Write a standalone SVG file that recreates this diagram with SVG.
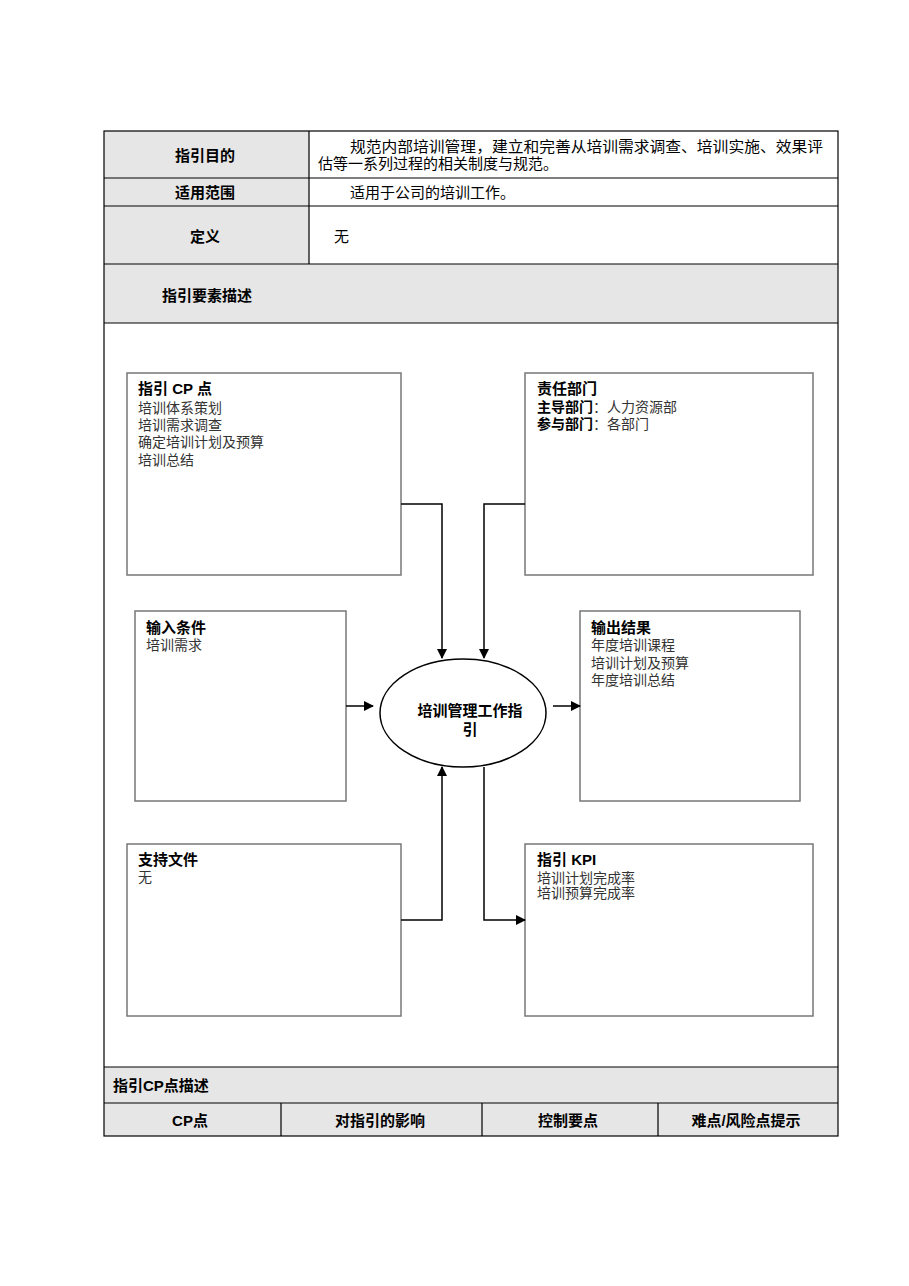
<svg xmlns="http://www.w3.org/2000/svg" width="909" height="1286" viewBox="0 0 909 1286">
<style>
text{font-family:"Liberation Sans","Noto Sans CJK SC",sans-serif;fill:#000}
.b{font-weight:bold;font-size:15px}
.n{font-size:15px}
.s{font-size:14px;fill:#333}
.box{fill:#fff;stroke:#777;stroke-width:1.5}
.g{fill:#e6e6e6}
.ln{stroke:#000;stroke-width:1.2;fill:none}
.c{stroke:#000;stroke-width:1.5;fill:none;marker-end:url(#a)}
</style>
<defs><marker id="a" markerWidth="10" markerHeight="10" refX="9" refY="5" orient="auto" markerUnits="userSpaceOnUse"><path d="M0,0 L10,5 L0,10 z" fill="#000"/></marker></defs>
<rect width="909" height="1286" fill="#fff"/>
<g id="table">
<rect class="g" x="104" y="131" width="205" height="133"/>
<rect class="g" x="104" y="264" width="734" height="59"/>
<rect class="g" x="104" y="1067" width="734" height="69"/>
<rect class="ln" x="104" y="131" width="734" height="1005"/>
<path class="ln" d="M309 131V264M104 178H838M104 206H838M104 264H838M104 323H838M104 1067H838M104 1103H838M281 1103V1136M482 1103V1136M658 1103V1136"/>
<text class="b" x="205" y="161" text-anchor="middle">指引目的</text>
<text class="n" x="350" y="152" textLength="473" lengthAdjust="spacingAndGlyphs">规范内部培训管理，建立和完善从培训需求调查、培训实施、效果评</text>
<text class="n" x="318" y="169">估等一系列过程的相关制度与规范。</text>
<text class="b" x="205" y="198" text-anchor="middle">适用范围</text>
<text class="n" x="350" y="198">适用于公司的培训工作。</text>
<text class="b" x="205" y="242" text-anchor="middle">定义</text>
<text class="n" x="334" y="242">无</text>
<text class="b" x="162" y="301">指引要素描述</text>
<text class="b" x="113" y="1091">指引CP点描述</text>
<text class="b" x="190" y="1126" text-anchor="middle">CP点</text>
<text class="b" x="380" y="1126" text-anchor="middle">对指引的影响</text>
<text class="b" x="568" y="1126" text-anchor="middle">控制要点</text>
<text class="b" x="746" y="1126" text-anchor="middle">难点/风险点提示</text>
</g>
<g id="cp"><rect class="box" x="127" y="373" width="274" height="202"/>
<text class="b" x="138" y="394">指引 CP 点</text>
<text class="s" x="138" y="413">培训体系策划</text><text class="s" x="138" y="430">培训需求调查</text><text class="s" x="138" y="447">确定培训计划及预算</text><text class="s" x="138" y="465">培训总结</text></g>
<g id="resp"><rect class="box" x="525" y="373" width="288" height="202"/>
<text class="b" x="537" y="394">责任部门</text>
<text class="s" x="537" y="412"><tspan font-weight="bold" fill="#000">主导部门</tspan>：人力资源部</text>
<text class="s" x="537" y="429"><tspan font-weight="bold" fill="#000">参与部门</tspan>：各部门</text></g>
<g id="input"><rect class="box" x="135" y="611" width="211" height="190"/>
<text class="b" x="146" y="633">输入条件</text><text class="s" x="146" y="650">培训需求</text></g>
<g id="output"><rect class="box" x="580" y="611" width="220" height="190"/>
<text class="b" x="591" y="633">输出结果</text>
<text class="s" x="591" y="650">年度培训课程</text><text class="s" x="591" y="668">培训计划及预算</text><text class="s" x="591" y="685">年度培训总结</text></g>
<g id="support"><rect class="box" x="127" y="844" width="274" height="172"/>
<text class="b" x="138" y="865">支持文件</text><text class="s" x="138" y="882">无</text></g>
<g id="kpi"><rect class="box" x="525" y="844" width="288" height="172"/>
<text class="b" x="537" y="865">指引 KPI</text>
<text class="s" x="537" y="883" font-size="12">培训计划完成率</text><text class="s" x="537" y="898" font-size="12">培训预算完成率</text></g>
<g id="center"><ellipse cx="463" cy="713" rx="83" ry="54" fill="#fff" stroke="#000" stroke-width="1.5"/>
<text class="b" x="470" y="716" text-anchor="middle">培训管理工作指</text><text class="b" x="470" y="735" text-anchor="middle">引</text></g>
<g id="connectors">
<path class="c" d="M401 504H442V658"/>
<path class="c" d="M525 504H484V658"/>
<path class="c" d="M346 706H373"/>
<path class="c" d="M553 706H580"/>
<path class="c" d="M401 920H442V767"/>
<path class="c" d="M484 767V920H525"/>
</g>
</svg>
